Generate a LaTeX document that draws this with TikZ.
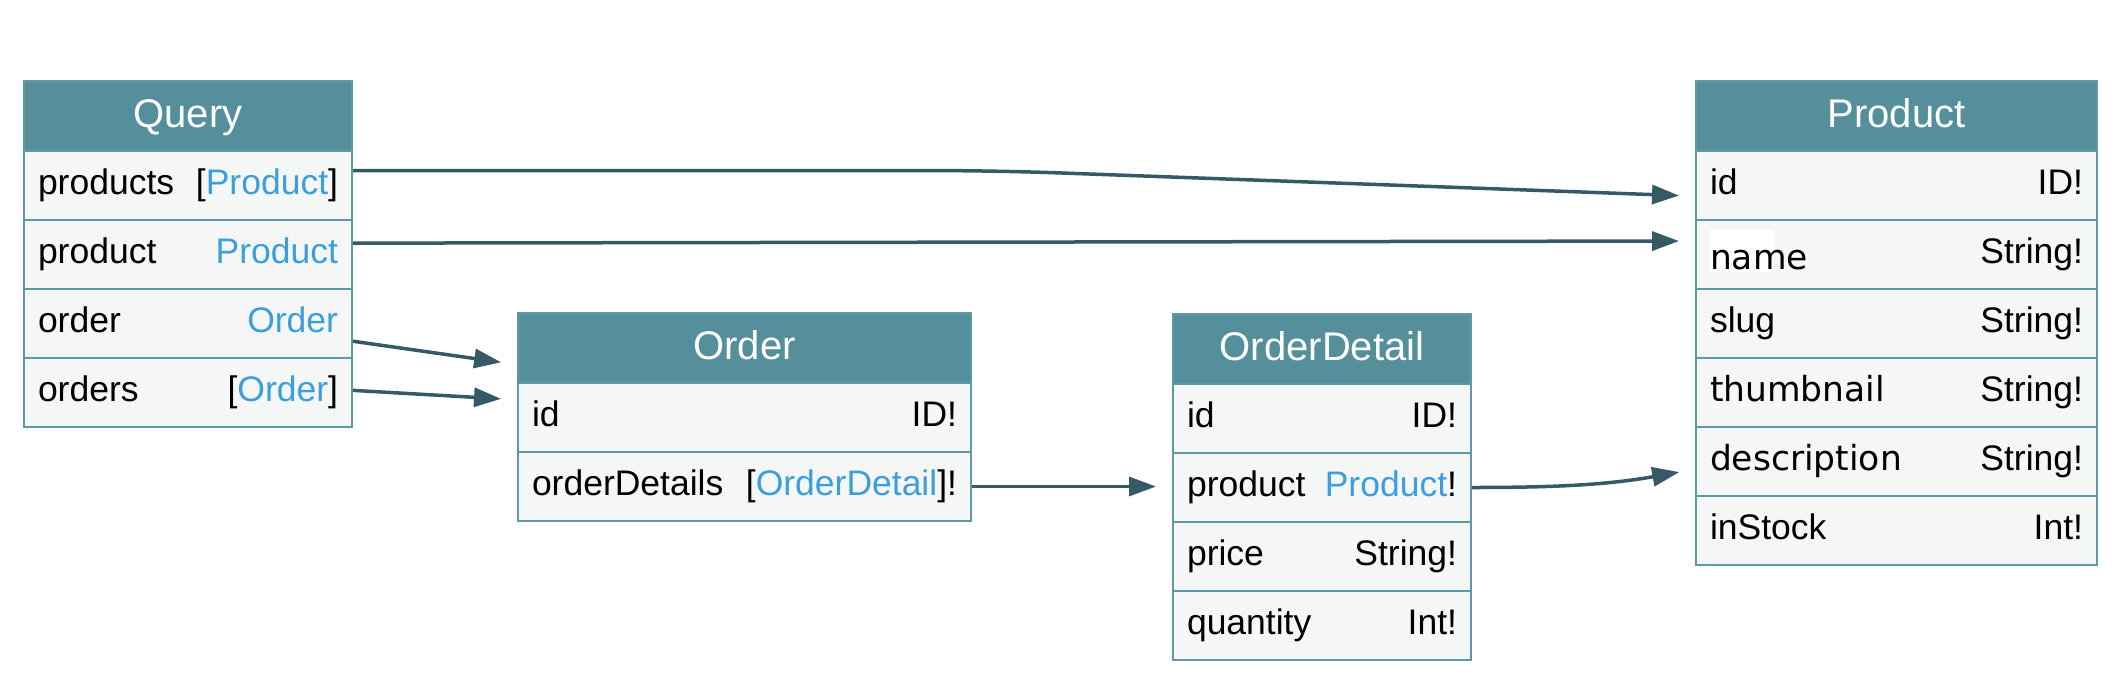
\documentclass[tikz,border=0pt]{standalone}
\usepackage{fontspec}
\setmainfont{Liberation Sans}
\newfontfamily\dejavu{DejaVu Sans}
\usetikzlibrary{arrows.meta,calc}
\definecolor{hdrc}{HTML}{568F9C}
\definecolor{rowc}{HTML}{F5F7F7}
\definecolor{bordc}{HTML}{5F98A6}
\definecolor{arrc}{HTML}{355A65}
\definecolor{linkc}{HTML}{3C9FDB}
\newcommand\lnk[1]{\textcolor{linkc}{#1}}
\newcommand\ftxt[3]{\makebox[#1]{#2\hfill #3}}
\newcommand\dv[1]{{\dejavu\fontsize{34.5}{40}\selectfont #1}}
\tikzset{
  hdr/.style={draw=bordc, fill=hdrc, line width=2pt, minimum height=70pt,
    text=white, font=\fontsize{40}{48}\selectfont, text height=29pt, text depth=6pt,
    inner sep=0pt, anchor=north west},
  fld/.style={draw=bordc, fill=rowc, line width=2pt, minimum height=69pt,
    font=\fontsize{35.5}{42}\selectfont, text height=26pt, text depth=8pt,
    inner sep=0pt, anchor=north west},
  conn/.style={draw=arrc, line width=3.5pt, shorten >=16pt,
    -{Triangle[length=27pt,width=19pt]}}
}
\begin{document}
\begin{tikzpicture}[x=1pt,y=-1pt]
\useasboundingbox[fill=white] (0,0) rectangle (2124,691);
% Query
\node[hdr, minimum width=328pt] (q) at (23,80) {Query};
\node[fld, minimum width=328pt] (q1) at (23,150) {\ftxt{300pt}{products}{[\lnk{Product}]}};
\node[fld, minimum width=328pt] (q2) at (23,219) {\ftxt{300pt}{product}{\lnk{Product}}};
\node[fld, minimum width=328pt] (q3) at (23,288) {\ftxt{300pt}{order}{\lnk{Order}}};
\node[fld, minimum width=328pt] (q4) at (23,357) {\ftxt{300pt}{orders}{[\lnk{Order}]}};
% Order
\node[hdr, minimum width=453pt] (o) at (517,312) {Order};
\node[fld, minimum width=453pt] (o1) at (517,382) {\ftxt{425pt}{id}{ID!}};
\node[fld, minimum width=453pt] (o2) at (517,451) {\ftxt{425pt}{orderDetails}{[\lnk{OrderDetail}]!}};
% OrderDetail
\node[hdr, minimum width=298pt] (d) at (1172,313) {OrderDetail};
\node[fld, minimum width=298pt] (d1) at (1172,383) {\ftxt{270pt}{id}{ID!}};
\node[fld, minimum width=298pt] (d2) at (1172,452) {\ftxt{270pt}{product}{\lnk{Product}!}};
\node[fld, minimum width=298pt] (d3) at (1172,521) {\ftxt{270pt}{price}{String!}};
\node[fld, minimum width=298pt] (d4) at (1172,590) {\ftxt{270pt}{quantity}{Int!}};
% Product
\node[hdr, minimum width=401pt] (p) at (1695,80) {Product};
\node[fld, minimum width=401pt] (p1) at (1695,150) {\ftxt{373pt}{id}{ID!}};
\node[fld, minimum width=401pt] (p2) at (1695,219) {\ftxt{373pt}{\raisebox{-6pt}{\makebox[0pt][l]{\textcolor{white}{\rule[-2pt]{64pt}{42pt}}}\dv{name}}}{String!}};
\node[fld, minimum width=401pt] (p3) at (1695,288) {\ftxt{373pt}{slug}{String!}};
\node[fld, minimum width=401pt] (p4) at (1695,357) {\ftxt{373pt}{\dv{thumbnail}}{String!}};
\node[fld, minimum width=401pt] (p5) at (1695,426) {\ftxt{373pt}{\dv{description}}{String!}};
\node[fld, minimum width=401pt] (p6) at (1695,495) {\ftxt{373pt}{inStock}{Int!}};
% connectors
\coordinate (a1) at ($(q1.north east)!0.29!(q1.south east)$);
\coordinate (b1) at ($(p1.north west)!0.65!(p1.south west)$);
\coordinate (m1) at (a1 -| 996,0);
\draw[conn, rounded corners=60pt] (a1) -- (m1) -- (b1);
\draw[conn] ($(q2.north east)!0.34!(q2.south east)$) -- ($(p2.north west)!0.31!(p2.south west)$);
\draw[conn] ($(q3.north east)!0.75!(q3.south east)$) -- ($(o.north west)!0.73!(o.south west)$);
\draw[conn] ($(q4.north east)!0.47!(q4.south east)$) -- ($(o1.north west)!0.25!(o1.south west)$);
\draw[conn] (o2.east) -- (o2.east -| d2.west);
\draw[conn] (d2.east) to[out=0,in=190] ($(p5.north west)!0.61!(p5.south west)$);
\end{tikzpicture}
\end{document}
